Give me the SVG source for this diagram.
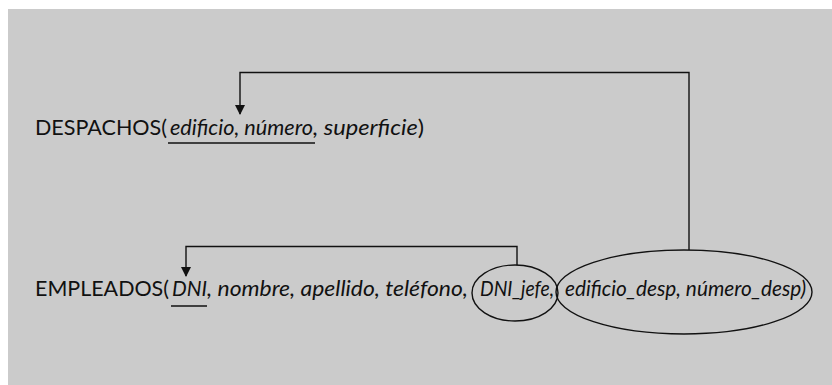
<svg xmlns="http://www.w3.org/2000/svg" width="832" height="385" viewBox="0 0 832 385">
<style>
.t{font-family:Lato,"Open Sans",sans-serif;font-size:21.5px;fill:#111}
.i{font-style:italic}
.n{font-style:normal}
.ln{fill:none;stroke:#111;stroke-width:1.4}
.ul{stroke:#111;stroke-width:1.4}
</style>
<defs>
<marker id="ah" markerWidth="10" markerHeight="10" refX="9" refY="5" orient="auto" markerUnits="userSpaceOnUse">
<path d="M0,0 L10,5 L0,10 Z" fill="#111"/>
</marker>
</defs>
<rect x="8" y="9" width="824" height="376" fill="#cbcbcb"/>
<g id="despachos">
<text class="t" x="35" y="135" textLength="132" lengthAdjust="spacingAndGlyphs">DESPACHOS(</text>
<text class="t i" x="170" y="135" textLength="143" lengthAdjust="spacingAndGlyphs">edificio, número</text>
<text class="t i" x="313" y="135" textLength="111" lengthAdjust="spacingAndGlyphs">, superficie<tspan class="n">)</tspan></text>
<line class="ul" x1="168" y1="143" x2="315" y2="143"/>
</g>
<g id="empleados">
<text class="t" x="35" y="296" textLength="134" lengthAdjust="spacingAndGlyphs">EMPLEADOS(</text>
<text class="t i" x="172" y="296" textLength="35" lengthAdjust="spacingAndGlyphs">DNI</text>
<text class="t i" x="207" y="296" textLength="261" lengthAdjust="spacingAndGlyphs">, nombre, apellido, teléfono,</text>
<text class="t i" x="480" y="296" textLength="74" lengthAdjust="spacingAndGlyphs">DNI_jefe,</text>
<text class="t i" x="565" y="296" textLength="241" lengthAdjust="spacingAndGlyphs">edificio_desp, número_desp)</text>
<line class="ul" x1="171" y1="306" x2="207" y2="306"/>
<ellipse id="fk_jefe" class="ln" cx="515" cy="293" rx="43" ry="28"/>
<ellipse id="fk_desp" class="ln" cx="684" cy="292" rx="128" ry="42"/>
</g>
<g id="connectors">
<path class="ln" d="M689,250 V72.5 H240 V114" marker-end="url(#ah)"/>
<path class="ln" d="M517,265 V246.5 H186 V276" marker-end="url(#ah)"/>
</g>
</svg>
